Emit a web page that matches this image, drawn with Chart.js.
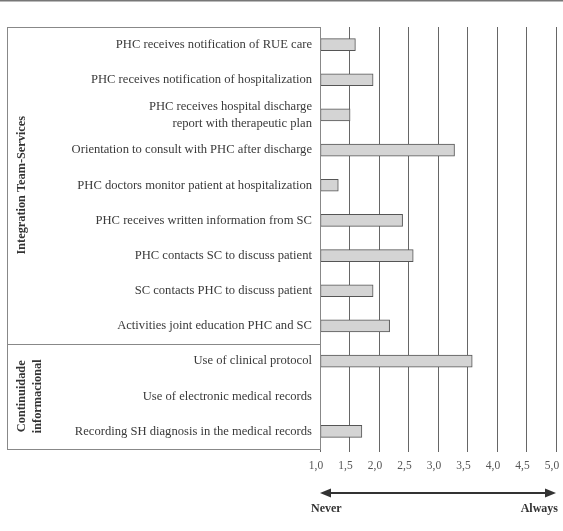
<!DOCTYPE html>
<html lang="en">
<head>
  <meta charset="UTF-8" />
  <title>Integration chart</title>
  <script src="https://cdn.jsdelivr.net/npm/chart.js"></script>
  <style>
    body { margin: 0; background: #fff; }
    #wrap { width: 563px; height: 531px; }
  </style>
</head>
<body>
  <div id="wrap"><canvas id="myChart" width="563" height="531"></canvas></div>

  <script>
    // items, top to bottom
    const itemLabels = [
      'PHC receives notification of RUE care',
      'PHC receives notification of hospitalization',
      ['PHC receives hospital discharge', 'report with therapeutic plan'],
      'Orientation to consult with PHC after discharge',
      'PHC doctors monitor patient at hospitalization',
      'PHC receives written information from SC',
      'PHC contacts SC to discuss patient',
      'SC contacts PHC to discuss patient',
      'Activities joint education PHC and SC',
      'Use of clinical protocol',
      'Use of electronic medical records',
      'Recording SH diagnosis in the medical records'
    ];
    const scores = [1.60, 1.90, 1.51, 3.28, 1.31, 2.40, 2.58, 1.90, 2.18, 3.58, null, 1.71];

    // group name (lines) and how many items it covers
    const groupNames = [['Integration Team-Services'], ['Continuidade', 'informacional']];
    const groupSizes = [9, 3];

    const xTicks = [1.0, 1.5, 2.0, 2.5, 3.0, 3.5, 4.0, 4.5, 5.0];
    const scaleEnds = ['Never', 'Always'];

    const serif = '"Liberation Serif", "DejaVu Serif", serif';

    // box around labels, group names, arrow
    const extras = {
      id: 'extras',
      afterDraw(chart) {
        const ctx = chart.ctx;
        const area = chart.chartArea;
        const x = chart.scales.x;
        const boxLeft = 7;
        const rowH = (area.bottom - area.top) / itemLabels.length;

        ctx.save();
        // page rule at top
        ctx.strokeStyle = '#777';
        ctx.lineWidth = 1.5;
        ctx.beginPath();
        ctx.moveTo(0, 0.75);
        ctx.lineTo(chart.width, 0.75);
        ctx.stroke();

        // label box
        ctx.strokeStyle = '#888';
        ctx.lineWidth = 1;
        ctx.strokeRect(boxLeft + 0.5, area.top + 0.5, area.left - boxLeft, area.bottom - area.top);

        // group names and dividers
        let start = 0;
        groupSizes.forEach((n, gi) => {
          const top = area.top + start * rowH;
          const bot = top + n * rowH;
          if (gi > 0) {
            ctx.beginPath();
            ctx.moveTo(boxLeft, Math.round(top) + 0.5);
            ctx.lineTo(area.left, Math.round(top) + 0.5);
            ctx.stroke();
          }
          const lines = groupNames[gi];
          const lh = 16;
          ctx.save();
          ctx.translate(22 + (lines.length - 1) * lh / 2, (top + bot) / 2);
          ctx.rotate(-Math.PI / 2);
          ctx.fillStyle = '#333';
          ctx.font = 'bold 12.3px ' + serif;
          ctx.textAlign = 'center';
          ctx.textBaseline = 'middle';
          lines.forEach((t, i) => {
            ctx.fillText(t, 0, (i - (lines.length - 1) / 2) * lh);
          });
          ctx.restore();
          start += n;
        });

        // Never <-> Always arrow
        const x0 = x.getPixelForValue(xTicks[0]);
        const x1 = x.getPixelForValue(xTicks[xTicks.length - 1]);
        const ay = 493;
        ctx.strokeStyle = '#333';
        ctx.fillStyle = '#333';
        ctx.lineWidth = 2;
        ctx.beginPath();
        ctx.moveTo(x0 + 6, ay);
        ctx.lineTo(x1 - 6, ay);
        ctx.stroke();
        ctx.beginPath();
        ctx.moveTo(x0, ay);
        ctx.lineTo(x0 + 11, ay - 4.5);
        ctx.lineTo(x0 + 11, ay + 4.5);
        ctx.closePath();
        ctx.fill();
        ctx.beginPath();
        ctx.moveTo(x1, ay);
        ctx.lineTo(x1 - 11, ay - 4.5);
        ctx.lineTo(x1 - 11, ay + 4.5);
        ctx.closePath();
        ctx.fill();

        ctx.font = 'bold 12px ' + serif;
        ctx.textBaseline = 'middle';
        ctx.textAlign = 'left';
        ctx.fillText(scaleEnds[0], x0 - 9, 509);
        ctx.textAlign = 'right';
        ctx.fillText(scaleEnds[1], x1 + 2, 509);
        ctx.restore();
      }
    };

    new Chart(document.getElementById('myChart'), {
      type: 'bar',
      data: {
        labels: itemLabels,
        datasets: [{
          data: scores,
          base: 1,
          backgroundColor: '#d4d4d4',
          borderColor: '#555',
          borderWidth: 1,
          borderSkipped: false,
          barThickness: 12
        }]
      },
      options: {
        indexAxis: 'y',
        responsive: false,
        animation: false,
        layout: { padding: { left: 7, right: 7, top: 27, bottom: 58 } },
        plugins: {
          legend: { display: false },
          tooltip: { enabled: false }
        },
        scales: {
          x: {
            min: 1,
            max: 5,
            afterFit(s) { s.height = 24; s.paddingLeft = 0; s.paddingRight = 0; },
            afterBuildTicks(s) { s.ticks = xTicks.map(v => ({ value: v })); },
            ticks: {
              color: '#555',
              font: { family: serif, size: 11.5 },
              padding: 7,
              labelOffset: -4,
              callback: v => Number(v).toFixed(1).replace('.', ',')
            },
            grid: { color: '#666', lineWidth: 1, tickLength: 3 },
            border: { display: false }
          },
          y: {
            afterFit(s) { s.width = 313; },
            ticks: {
              color: '#3a3a3a',
              font: { family: serif, size: 12.6, lineHeight: 1.35 },
              padding: 8,
              autoSkip: false
            },
            grid: { display: false, drawTicks: false },
            border: { display: true, color: '#888', width: 1 }
          }
        }
      },
      plugins: [extras]
    });
  </script>
</body>
</html>
